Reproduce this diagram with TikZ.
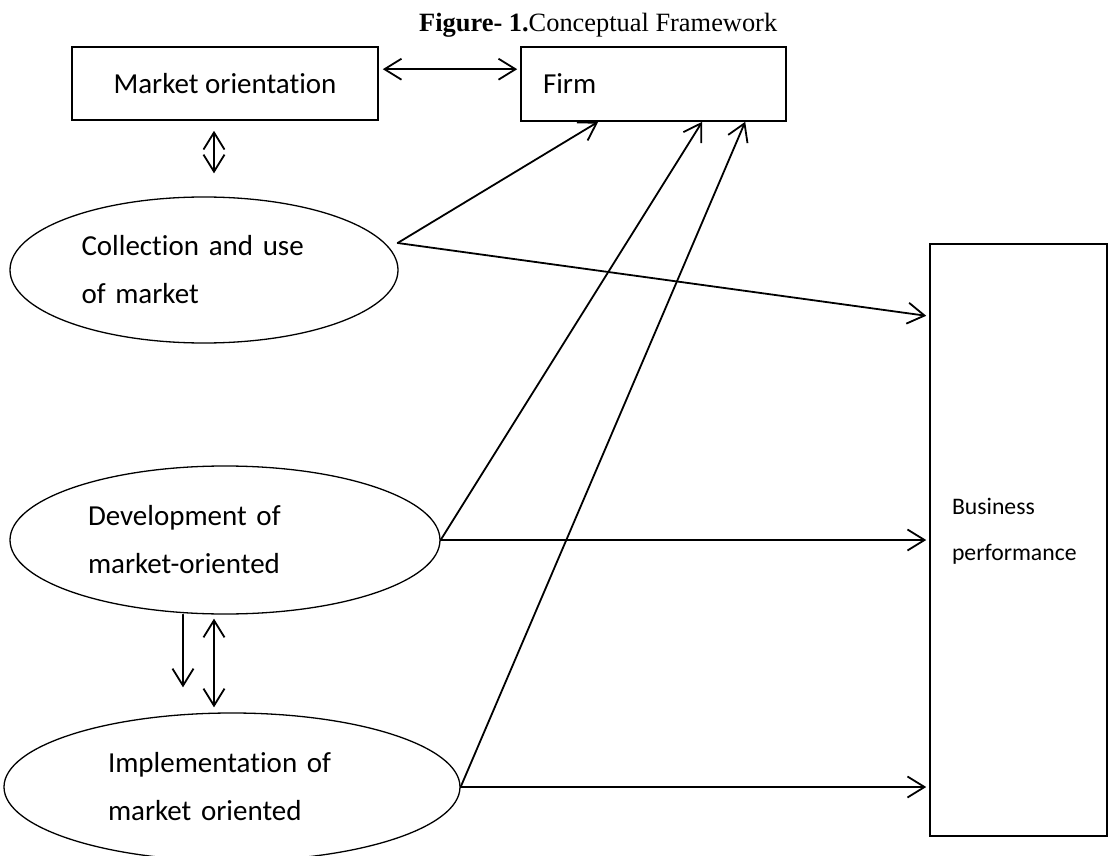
\documentclass[tikz,border=0pt]{standalone}
\usepackage{fontspec}
\setmainfont{Carlito}[Ligatures={NoCommon,NoRare,NoContextual}]
\newfontfamily\titlefont{Liberation Serif}
\usetikzlibrary{arrows.meta,shapes.geometric}
\begin{document}
\begin{tikzpicture}[x=1pt,y=-1pt,
  box/.style={draw, line width=1.6pt, inner sep=0pt},
  oval/.style={draw, ellipse, line width=1.3pt, inner sep=0pt, align=left,
    font=\fontsize{29}{48}\selectfont},
  big/.style={font=\fontsize{29}{48}\selectfont},
  small/.style={font=\fontsize{23.7}{46}\selectfont, inner sep=0pt, align=left},
  tip/.tip={Straight Barb[length=17pt,width=21pt]},
  conn/.style={line width=1.8pt, line cap=round, -tip},
  dbl/.style={line width=1.8pt, line cap=round, tip-tip},
]
\useasboundingbox (0,0) rectangle (1109,856);

% title
\node[inner sep=0pt, anchor=base west, font=\titlefont\fontsize{26.4}{30}\selectfont]
  (title) at (419,32) {\textbf{Figure- 1.}Conceptual Framework};

% boxes
\node[box, big, minimum width=306pt, minimum height=73pt] (mo) at (225,83.5) {Market orientation};
\node[box, big, minimum width=265pt, minimum height=74pt, text width=221pt, align=left]
  (firm) at (653.5,84) {Firm};
\node[box, minimum width=177pt, minimum height=592pt] (bp) at (1018.5,540) {};
\node[small, text width=133pt] (bpt) at (1018.5,531) {Business\\performance};

% ellipses
\node[oval, minimum width=388pt, minimum height=146pt, text width=245pt]
  (col) at (204,270) {\mbox{Collection and use}\\\mbox{of market}};
\node[oval, minimum width=430pt, minimum height=148pt, text width=274pt]
  (dev) at (225,540) {\mbox{Development of}\\\mbox{market-oriented}};
\node[oval, minimum width=456pt, minimum height=148pt, text width=248pt]
  (impl) at (232,787) {\mbox{Implementation of}\\\mbox{market oriented}};

\coordinate (cp) at ([shift={(-1,-27)}]col.east);

% connectors
\draw[dbl, shorten <=4pt, shorten >=3pt] ([yshift=-23pt]mo.north east) -- ([yshift=-23pt]firm.north west);
\draw[dbl, shorten <=10pt, shorten >=23pt] ([xshift=-11pt]mo.south) -- ([xshift=10pt]col.north);

\draw[conn] (cp) -- ([xshift=78pt]firm.south west);
\draw[conn, shorten >=3pt] (cp) -- ([yshift=-73pt]bp.north west);

\draw[conn] (dev.east) -- ([xshift=182pt]firm.south west);
\draw[conn, shorten >=3pt] (dev.east) -- (bp.west |- dev.east);

\draw[conn] (impl.east) -- ([xshift=225pt]firm.south west);
\draw[conn, shorten >=3pt] (impl.east) -- (bp.west |- impl.east);

\draw[conn, shorten >=25pt] ([xshift=-42pt]dev.south) -- ([xshift=-49pt]impl.north);
\draw[dbl, shorten <=4pt, shorten >=5pt] ([xshift=-11pt]dev.south) -- ([xshift=-18pt]impl.north);
\end{tikzpicture}
\end{document}
